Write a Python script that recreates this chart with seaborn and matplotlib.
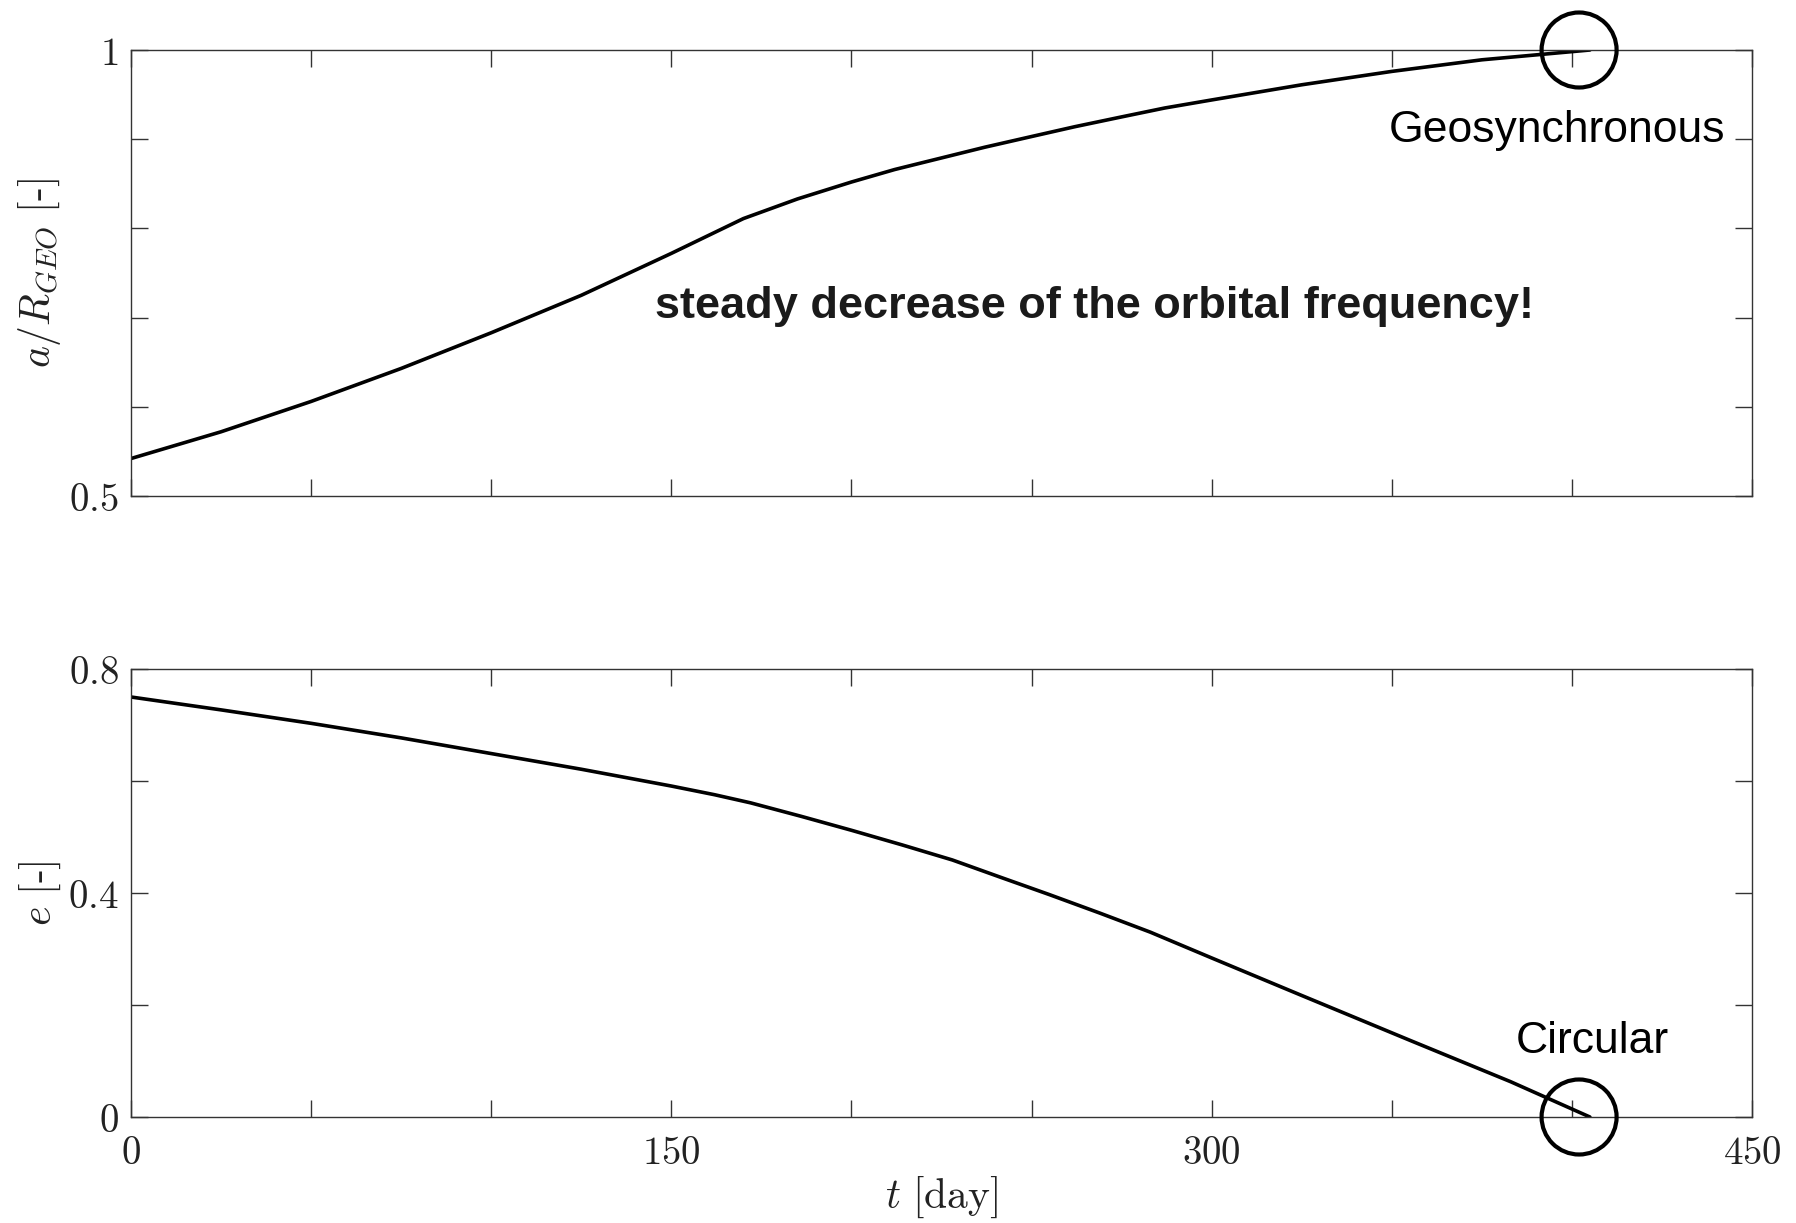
import numpy as np
import pandas as pd
import matplotlib
matplotlib.use("Agg")
import matplotlib.pyplot as plt
import seaborn as sns

# ---- data ----
t_a = [0, 25, 50, 75, 100, 125, 150, 170, 185, 200, 212, 225, 237, 250, 262, 275, 287, 300,
       325, 350, 375, 405]
a_ratio = [0.542, 0.572, 0.606, 0.643, 0.683, 0.725, 0.772, 0.811, 0.833, 0.852, 0.866,
           0.879, 0.891, 0.903, 0.914, 0.925, 0.935, 0.944, 0.961, 0.976, 0.989, 1.0]

t_e = [0, 25, 50, 75, 100, 125, 150, 162, 172, 186, 200, 214, 228, 241, 255, 269, 283, 300,
       325, 355, 383, 405]
ecc = [0.750, 0.727, 0.703, 0.677, 0.649, 0.621, 0.591, 0.5755, 0.561, 0.537, 0.512, 0.486,
       0.459, 0.429, 0.397, 0.364, 0.330, 0.284, 0.217, 0.137, 0.063, 0.0]

marker_t = [402]
marker_a = [1.0]
marker_e = [0.0]

a_ticks = [0.5, 0.6, 0.7, 0.8, 0.9, 1.0]
a_ticklabels = ["0.5", "", "", "", "", "1"]
e_ticks = [0.0, 0.2, 0.4, 0.6, 0.8]
e_ticklabels = ["0", "", "0.4", "", "0.8"]
t_ticks = [0, 50, 100, 150, 200, 250, 300, 350, 400, 450]
t_ticklabels = ["0", "", "", "150", "", "", "300", "", "", "450"]

label_geo = "Geosynchronous"
label_circ = "Circular"
label_note = "steady decrease of the orbital frequency!"

# ---- style ----
sns.set_style("ticks")
plt.rcParams["mathtext.fontset"] = "cm"
plt.rcParams["font.family"] = ["DejaVu Sans"]
plt.rcParams["axes.unicode_minus"] = False

spine_color = "#333333"
text_color = "#222222"
fig = plt.figure(figsize=(17.96, 12.23), dpi=100)
ax1 = fig.add_axes([131 / 1796, 1 - 496 / 1223, (1752 - 131) / 1796, 446 / 1223])
ax2 = fig.add_axes([131 / 1796, 1 - 1117 / 1223, (1752 - 131) / 1796, 448 / 1223])

df_a = pd.DataFrame({"t": t_a, "a": a_ratio})
df_e = pd.DataFrame({"t": t_e, "e": ecc})

sns.lineplot(data=df_a, x="t", y="a", ax=ax1, color="black", linewidth=2.6,
             estimator=None, sort=False)
sns.lineplot(data=df_e, x="t", y="e", ax=ax2, color="black", linewidth=2.6,
             estimator=None, sort=False)

sns.scatterplot(x=marker_t, y=marker_a, ax=ax1, s=54 ** 2, facecolor="none",
                edgecolor="black", linewidth=3.0, zorder=5)
sns.scatterplot(x=marker_t, y=marker_e, ax=ax2, s=54 ** 2, facecolor="none",
                edgecolor="black", linewidth=3.0, zorder=5)
for ax in (ax1, ax2):
    for c in ax.collections:
        c.set_clip_on(False)


def tex(s):
    return "" if s == "" else "$" + s + "$"


for ax in (ax1, ax2):
    ax.set_xlim(0, 450)
    ax.set_xticks(t_ticks)
    for sp in ax.spines.values():
        sp.set_visible(True)
        sp.set_color(spine_color)
        sp.set_linewidth(1.0)
    ax.tick_params(direction="in", length=12, width=1.0, color=spine_color,
                   top=True, right=True, labelsize=28, labelcolor=text_color)
    ax.tick_params(axis="x", pad=12)
    ax.tick_params(axis="y", pad=9)
    ax.grid(False)

ax1.set_ylim(0.5, 1.0)
ax1.set_yticks(a_ticks)
ax1.set_yticklabels([tex(s) for s in a_ticklabels])
ax1.set_xticklabels([])
ax1.set_xlabel("")

ax2.set_ylim(0.0, 0.8)
ax2.set_yticks(e_ticks)
ax2.set_yticklabels([tex(s) for s in e_ticklabels])
ax2.set_xticklabels([tex(s) for s in t_ticklabels])

ax1.set_ylabel(r"$a/R_{GEO}\ [\text{-}]$", fontsize=30, color=text_color)
ax2.set_ylabel(r"$e\ [\text{-}]$", fontsize=30, color=text_color)
ax2.set_xlabel(r"$t\ [\mathrm{day}]$", fontsize=30, color=text_color, labelpad=2)
ax1.yaxis.set_label_coords(-0.042, 0.5)
ax2.yaxis.set_label_coords(-0.042, 0.5)

txt_font = ["Liberation Sans", "DejaVu Sans"]
ax1.text(396, 0.897, label_geo, ha="center", va="baseline", fontsize=32,
         family=txt_font, color="black")
ax2.text(405.8, 0.114, label_circ, ha="center", va="baseline", fontsize=32,
         family=txt_font, color="black")
ax1.text(267.4, 0.699, label_note, ha="center", va="baseline", fontsize=32.5,
         family=txt_font, fontweight="bold", color="#1a1a1a")

fig.savefig("out.png", dpi=100, facecolor="white")
